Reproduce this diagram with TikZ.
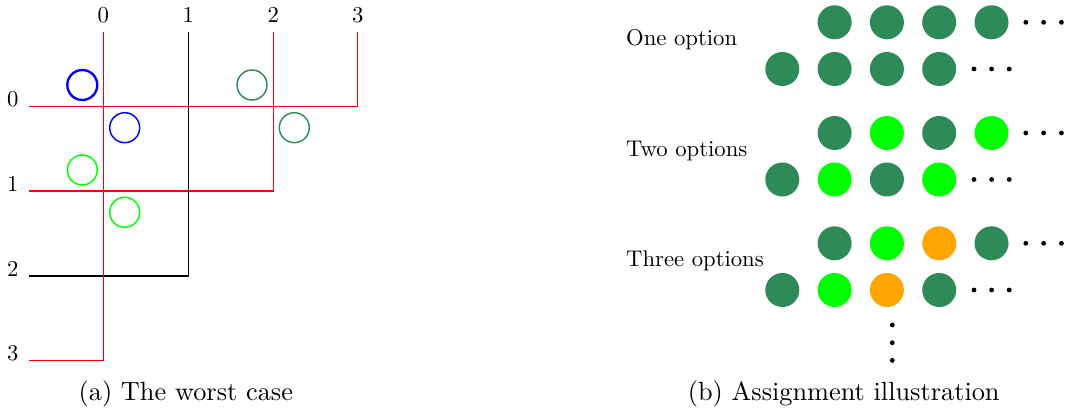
\documentclass[tikz,border=0pt]{standalone}
\usepackage{fontspec}
\definecolor{sea}{RGB}{46,139,87}
\definecolor{lgreen}{RGB}{0,255,0}
\definecolor{orng}{RGB}{255,165,0}
\begin{document}
\begin{tikzpicture}[x=0.38023pt,y=-0.38023pt,
  gridline/.style={line width=0.6pt},
  lbl/.style={font=\fontsize{10}{12}\selectfont, scale=0.863, inner sep=0pt, anchor=base},
  rowlbl/.style={font=\fontsize{10}{12}\selectfont, scale=0.863, inner sep=0pt, anchor=base west},
  captext/.style={font=\fontsize{10}{12}\selectfont, inner sep=0pt, anchor=base},
  ring/.style={circle, draw, line width=0.55pt, minimum size=11.4pt, inner sep=0pt},
  ball/.style={circle, fill=#1, minimum size=12.93pt, inner sep=0pt},
  tinydot/.style={fill=black}]
\useasboundingbox (0,0) rectangle (1067,412);

% ---------- (a) ----------
\node[lbl] (c0) at (103.3,22.5) {0};
\node[lbl] (c1) at (188.3,22.5) {1};
\node[lbl] (c2) at (273.3,22.5) {2};
\node[lbl] (c3) at (357.7,22.5) {3};
\node[lbl] (r0) at (12.7,106.3) {0};
\node[lbl] (r1) at (12.7,191) {1};
\node[lbl] (r2) at (12.7,276) {2};
\node[lbl] (r3) at (12.7,360.7) {3};

\draw[gridline, red]   (357.7,32.3) |- (29.3,106.3);
\draw[gridline, red]   (273.3,32.3) |- (29.3,191);
\draw[gridline, black] (188.3,32.3) |- (29.3,276);
\draw[gridline, red]   (103.3,32.3) |- (29.3,360.7);

\node[ring, draw=blue, line width=0.9pt] (b1) at (82.3,85) {};
\node[ring, draw=blue] (b2) at (124.7,127.7) {};
\node[ring, draw=sea] (s1) at (252,85) {};
\node[ring, draw=sea] (s2) at (294.3,127.7) {};
\node[ring, draw=lgreen] (g1) at (82.3,170) {};
\node[ring, draw=lgreen] (g2) at (124.7,212.3) {};

\node[captext] (capa) at (185.8,400.5) {(a) The worst case};

% ---------- (b) ----------
\node[rowlbl] (l1) at (625.7,45.7) {One option};
\node[rowlbl] (l2) at (625.7,156.2) {Two options};
\node[rowlbl] (l3) at (625.7,266.7) {Three options};

% block 1
\node[ball=sea] (a11) at (834.6,22.3) {};
\node[ball=sea] (a12) at (886.9,22.3) {};
\node[ball=sea] (a13) at (939.2,22.3) {};
\node[ball=sea] (a14) at (991.5,22.3) {};
\node[ball=sea] (a21) at (782.3,69) {};
\node[ball=sea] (a22) at (834.6,69) {};
\node[ball=sea] (a23) at (886.9,69) {};
\node[ball=sea] (a24) at (939.2,69) {};
% block 2
\node[ball=sea]    (b11) at (834.6,133) {};
\node[ball=lgreen] (b12) at (886.9,133) {};
\node[ball=sea]    (b13) at (939.2,133) {};
\node[ball=lgreen] (b14) at (991.5,133) {};
\node[ball=sea]    (b21) at (782.3,179.5) {};
\node[ball=lgreen] (b22) at (834.6,179.5) {};
\node[ball=sea]    (b23) at (886.9,179.5) {};
\node[ball=lgreen] (b24) at (939.2,179.5) {};
% block 3
\node[ball=sea]    (d11) at (834.6,243.3) {};
\node[ball=lgreen] (d12) at (886.9,243.3) {};
\node[ball=orng]   (d13) at (939.2,243.3) {};
\node[ball=sea]    (d14) at (991.5,243.3) {};
\node[ball=sea]    (d21) at (782.3,290) {};
\node[ball=lgreen] (d22) at (834.6,290) {};
\node[ball=orng]   (d23) at (886.9,290) {};
\node[ball=sea]    (d24) at (939.2,290) {};

% ellipses
\foreach \yy in {22.3,133,243.3} {
  \foreach \xx in {1025.8,1043.6,1061.4} \fill[tinydot] (\xx,\yy) circle (2.4);
}
\foreach \yy in {69,179.5,290} {
  \foreach \xx in {974,991.6,1009.2} \fill[tinydot] (\xx,\yy) circle (2.4);
}
\foreach \yy in {325,342.7,360.4} \fill[tinydot] (892.3,\yy) circle (2.4);

\node[captext] (capb) at (843.7,400.5) {(b) Assignment illustration};
\end{tikzpicture}
\end{document}
